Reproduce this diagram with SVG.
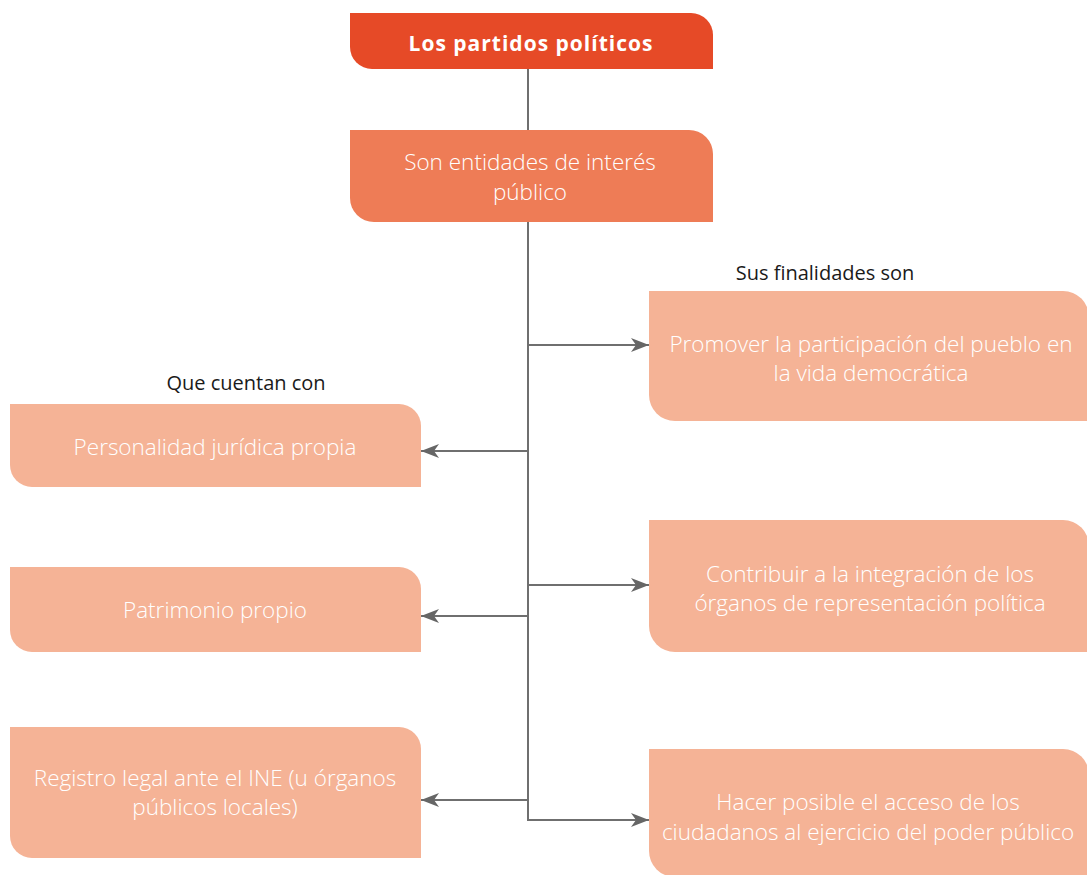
<svg xmlns="http://www.w3.org/2000/svg" width="1087" height="875" viewBox="0 0 1087 875">
<style>
.t{font-family:"Open Sans","Liberation Sans",sans-serif;font-weight:300;font-size:22.5px;fill:#ffffff;text-anchor:middle}
.lbl{font-family:"Open Sans","Liberation Sans",sans-serif;font-weight:400;font-size:20px;fill:#1a1a1a;text-anchor:middle}
.ttl{font-family:"Open Sans","Liberation Sans",sans-serif;font-weight:700;font-size:21px;fill:#ffffff;text-anchor:middle;letter-spacing:1px}
.light{fill:#F5B396}
.conn{stroke:#6f6f6f;stroke-width:2;fill:none}
</style>
<defs>
<marker id="ah" viewBox="0 0 18 14" refX="18" refY="7" markerWidth="18" markerHeight="14" markerUnits="userSpaceOnUse" orient="auto">
<path d="M0,0 L18,7 L0,14 L5,7 Z" fill="#666666"/>
</marker>
</defs>
<rect width="1087" height="875" fill="#ffffff"/>
<g id="connectors">
<path class="conn" d="M528,69 V820 H649" marker-end="url(#ah)"/>
<path class="conn" d="M528,345 H649" marker-end="url(#ah)"/>
<path class="conn" d="M528,451 H421" marker-end="url(#ah)"/>
<path class="conn" d="M528,585 H649" marker-end="url(#ah)"/>
<path class="conn" d="M528,616 H421" marker-end="url(#ah)"/>
<path class="conn" d="M528,800 H421" marker-end="url(#ah)"/>
</g>
<g id="n-title">
<path d="M350,13 H691 A22,22 0 0 1 713,35 V69 H372 A22,22 0 0 1 350,47 Z" fill="#E64A27"/>
<text class="ttl" x="531" y="51">Los partidos políticos</text>
</g>
<g id="n-entidades">
<path d="M350,130 H689 A24,24 0 0 1 713,154 V222 H374 A24,24 0 0 1 350,198 Z" fill="#EE7C56"/>
<text class="t" x="530" y="170">Son entidades de interés</text>
<text class="t" x="530" y="200">público</text>
</g>
<text class="lbl" x="825" y="280">Sus finalidades son</text>
<text class="lbl" x="246" y="390">Que cuentan con</text>
<g id="n-promover">
<path class="light" d="M649,291 H1063 A26,26 0 0 1 1089,317 V421 H675 A26,26 0 0 1 649,395 Z"/>
<text class="t" x="871" y="352">Promover la participación del pueblo en</text>
<text class="t" x="871" y="381">la vida democrática</text>
</g>
<g id="n-contribuir">
<path class="light" d="M649,520 H1063 A26,26 0 0 1 1089,546 V652 H675 A26,26 0 0 1 649,626 Z"/>
<text class="t" x="870" y="582">Contribuir a la integración de los</text>
<text class="t" x="870" y="611">órganos de representación política</text>
</g>
<g id="n-hacer">
<path class="light" d="M649,749 H1063 A26,26 0 0 1 1089,775 V877 H675 A26,26 0 0 1 649,851 Z"/>
<text class="t" x="868" y="810">Hacer posible el acceso de los</text>
<text class="t" x="868" y="840">ciudadanos al ejercicio del poder público</text>
</g>
<g id="n-personalidad">
<path class="light" d="M10,404 H399 A22,22 0 0 1 421,426 V487 H32 A22,22 0 0 1 10,465 Z"/>
<text class="t" x="215" y="455">Personalidad jurídica propia</text>
</g>
<g id="n-patrimonio">
<path class="light" d="M10,567 H399 A22,22 0 0 1 421,589 V652 H32 A22,22 0 0 1 10,630 Z"/>
<text class="t" x="215" y="618">Patrimonio propio</text>
</g>
<g id="n-registro">
<path class="light" d="M10,727 H399 A22,22 0 0 1 421,749 V858 H32 A22,22 0 0 1 10,836 Z"/>
<text class="t" x="215" y="786">Registro legal ante el INE (u órganos</text>
<text class="t" x="215" y="815">públicos locales)</text>
</g>
</svg>
